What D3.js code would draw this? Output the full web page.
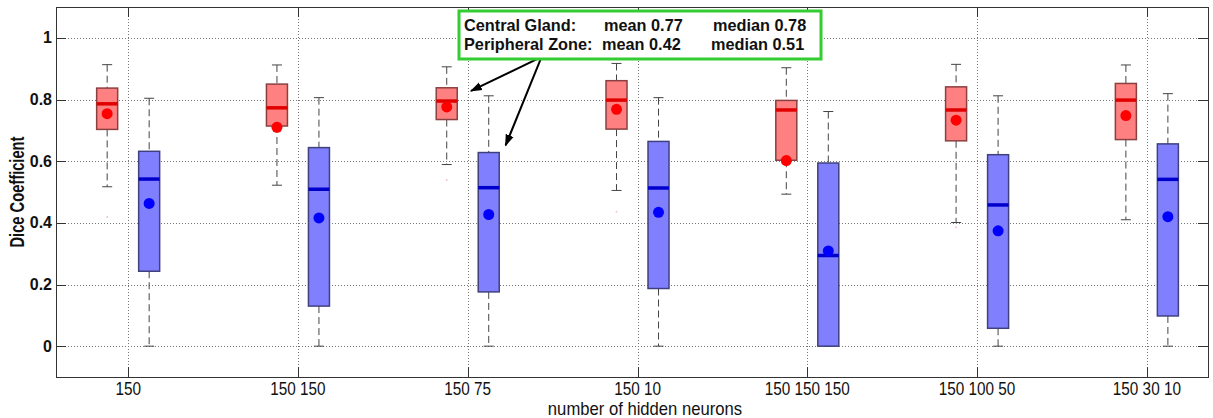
<!DOCTYPE html>
<html>
<head>
<meta charset="utf-8">
<script src="https://cdn.jsdelivr.net/npm/d3@7"></script>
<style>
  body { margin: 0; background: #fff; }
  text { font-family: Arial, "Liberation Sans", sans-serif; }
</style>
</head>
<body>
<div id="chart"></div>
<script>
// network configurations (x categories)
var categories = ["150", "150 150", "150 75", "150 10", "150 150 150", "150 100 50", "150 30 10"];
var yTicks = [0, 0.2, 0.4, 0.6, 0.8, 1];

// central gland (red)
var cgHigh   = [0.913, 0.912, 0.906, 0.917, 0.903, 0.914, 0.912];
var cgQ3     = [0.837, 0.850, 0.838, 0.861, 0.797, 0.841, 0.852];
var cgMedian = [0.786, 0.773, 0.795, 0.798, 0.766, 0.766, 0.798];
var cgQ1     = [0.703, 0.714, 0.735, 0.704, 0.603, 0.666, 0.670];
var cgLow    = [0.517, 0.522, 0.589, 0.505, 0.493, 0.401, 0.410];
var cgMean   = [0.754, 0.710, 0.776, 0.768, 0.602, 0.733, 0.748];
var cgOutliers = [[1, 0.419], [3, 0.539], [4, 0.436], [6, 0.386]];

// peripheral zone (blue)
var pzHigh   = [0.804, 0.806, 0.812, 0.806, 0.761, 0.812, 0.819];
var pzQ3     = [0.632, 0.644, 0.628, 0.664, 0.594, 0.621, 0.656];
var pzMedian = [0.542, 0.509, 0.514, 0.513, 0.294, 0.458, 0.541];
var pzQ1     = [0.243, 0.130, 0.176, 0.187, 0.000, 0.058, 0.098];
var pzLow    = [0, 0, 0, 0, 0, 0, 0];
var pzMean   = [0.463, 0.416, 0.427, 0.434, 0.309, 0.374, 0.420];

var annotationLines = [
    ["Central Gland:", "mean 0.77", "median 0.78"],
    ["Peripheral Zone:", "mean 0.42", "median 0.51"]
];

var width = 1213, height = 418;
var plotLeft = 56, plotRight = 1208, plotTop = 7, plotBottom = 377;

var svg = d3.select("#chart").append("svg")
    .attr("width", width)
    .attr("height", height);

svg.append("rect").attr("width", width).attr("height", height).attr("fill", "#fff");

var x = d3.scaleLinear().domain([0.575, 7.36]).range([plotLeft, plotRight]);
var y = d3.scaleLinear().domain([-0.1, 1.1]).range([plotBottom, plotTop]);

// grid
var grid = svg.append("g").attr("stroke", "#777").attr("stroke-width", 1).attr("stroke-dasharray", "1,2");
grid.selectAll("line.h").data(yTicks).enter().append("line")
    .attr("x1", plotLeft).attr("x2", plotRight)
    .attr("y1", function(d){ return Math.round(y(d)) + 0.5; })
    .attr("y2", function(d){ return Math.round(y(d)) + 0.5; });
grid.selectAll("line.v").data(categories).enter().append("line")
    .attr("y1", plotTop).attr("y2", plotBottom)
    .attr("x1", function(d, i){ return Math.round(x(i + 1)) + 0.5; })
    .attr("x2", function(d, i){ return Math.round(x(i + 1)) + 0.5; });

// axes box with inward ticks
var tickLen = 10;
var axisG = svg.append("g").attr("stroke", "#333").attr("stroke-width", 1).attr("fill", "none");
axisG.append("rect").attr("x", plotLeft + 0.5).attr("y", plotTop + 0.5)
    .attr("width", plotRight - plotLeft).attr("height", plotBottom - plotTop);
yTicks.forEach(function(d){
    var yy = Math.round(y(d)) + 0.5;
    axisG.append("line").attr("x1", plotLeft).attr("x2", plotLeft + tickLen).attr("y1", yy).attr("y2", yy);
    axisG.append("line").attr("x1", plotRight - tickLen).attr("x2", plotRight).attr("y1", yy).attr("y2", yy);
});
categories.forEach(function(d, i){
    var xx = Math.round(x(i + 1)) + 0.5;
    axisG.append("line").attr("y1", plotBottom).attr("y2", plotBottom - tickLen).attr("x1", xx).attr("x2", xx);
    axisG.append("line").attr("y1", plotTop).attr("y2", plotTop + tickLen).attr("x1", xx).attr("x2", xx);
});

// tick labels
svg.selectAll("text.ytick").data(yTicks).enter().append("text")
    .attr("x", plotLeft - 4)
    .attr("y", function(d){ return y(d); })
    .attr("dy", "0.35em")
    .attr("text-anchor", "end")
    .attr("font-size", 16).attr("font-weight", "bold").attr("fill", "#111")
    .text(function(d){ return d3.format("")(d); });

svg.selectAll("text.xtick").data(categories).enter().append("text")
    .attr("transform", function(d, i){ return "translate(" + x(i + 1) + ",395) scale(0.9,1.12)"; })
    .attr("text-anchor", "middle")
    .attr("font-size", 17).attr("fill", "#111")
    .text(function(d){ return d; });

svg.append("text")
    .attr("transform", "translate(645,415) scale(0.98,1.1)")
    .attr("text-anchor", "middle")
    .attr("font-size", 17).attr("fill", "#111")
    .text("number of hidden neurons");

svg.append("text")
    .attr("transform", "translate(24," + ((plotTop + plotBottom) / 2) + ") rotate(-90) scale(0.98,1.3)")
    .attr("text-anchor", "middle")
    .attr("font-size", 15).attr("font-weight", "bold").attr("fill", "#111")
    .text("Dice Coefficient");

// box plots
var boxW = 21, offset = 21, capW = 10;
function drawGroup(high, q3, med, q1, low, mean, dx, fill, edge, medColor, dotColor) {
    var g = svg.append("g");
    categories.forEach(function(c, i){
        var cx = x(i + 1) + dx;
        // whiskers
        g.append("line").attr("x1", cx).attr("x2", cx).attr("y1", y(high[i])).attr("y2", y(q3[i]))
            .attr("stroke", "#444").attr("stroke-dasharray", "7,4");
        g.append("line").attr("x1", cx).attr("x2", cx).attr("y1", y(q1[i])).attr("y2", y(low[i]))
            .attr("stroke", "#444").attr("stroke-dasharray", "7,4");
        [high[i], low[i]].forEach(function(v){
            g.append("line").attr("x1", cx - capW / 2).attr("x2", cx + capW / 2)
                .attr("y1", y(v)).attr("y2", y(v)).attr("stroke", "#444");
        });
        g.append("rect")
            .attr("x", cx - boxW / 2).attr("width", boxW)
            .attr("y", y(q3[i])).attr("height", y(q1[i]) - y(q3[i]))
            .attr("fill", fill).attr("stroke", edge).attr("stroke-width", 1.5);
        g.append("line").attr("x1", cx - boxW / 2).attr("x2", cx + boxW / 2)
            .attr("y1", y(med[i])).attr("y2", y(med[i]))
            .attr("stroke", medColor).attr("stroke-width", 3.5);
        g.append("circle").attr("cx", cx).attr("cy", y(mean[i])).attr("r", 5.5).attr("fill", dotColor);
    });
    return g;
}
drawGroup(cgHigh, cgQ3, cgMedian, cgQ1, cgLow, cgMean, -offset, "#ff8080", "#8a4040", "#e00000", "#ff0000");
drawGroup(pzHigh, pzQ3, pzMedian, pzQ1, pzLow, pzMean, offset, "#8080ff", "#40407f", "#0000cc", "#0000ff");

svg.selectAll("circle.out").data(cgOutliers).enter().append("circle")
    .attr("cx", function(d){ return x(d[0]) - offset; })
    .attr("cy", function(d){ return y(d[1]); })
    .attr("r", 1).attr("fill", "#f0c8c8");

// annotation
var defs = svg.append("defs");
defs.append("marker").attr("id", "arrow")
    .attr("viewBox", "0 0 10 10").attr("refX", 9).attr("refY", 5)
    .attr("markerWidth", 12).attr("markerHeight", 12).attr("markerUnits", "userSpaceOnUse")
    .attr("orient", "auto")
    .append("path").attr("d", "M0,1.5 L10,5 L0,8.5 z").attr("fill", "#000");

var arrowFrom = [3.435, 0.938];
var arrowTo = [[3.019, 0.828], [3.223, 0.651]];
arrowTo.forEach(function(p){
    svg.append("line")
        .attr("x1", x(arrowFrom[0])).attr("y1", y(arrowFrom[1]))
        .attr("x2", x(p[0])).attr("y2", y(p[1]))
        .attr("stroke", "#000").attr("stroke-width", 2)
        .attr("marker-end", "url(#arrow)");
});

svg.append("rect").attr("x", 459).attr("y", 11).attr("width", 362).attr("height", 48)
    .attr("fill", "#fff").attr("stroke", "#33cc33").attr("stroke-width", 3);
var colX = [464, 602, 711];
annotationLines.forEach(function(row, r){
    row.forEach(function(t, c){
        svg.append("text")
            .attr("x", colX[c] + (r === 0 && c > 0 ? 2 : 0))
            .attr("y", 30.5 + r * 19)
            .attr("font-size", 16.3).attr("font-weight", "bold").attr("fill", "#111")
            .text(t);
    });
});
</script>
</body>
</html>
